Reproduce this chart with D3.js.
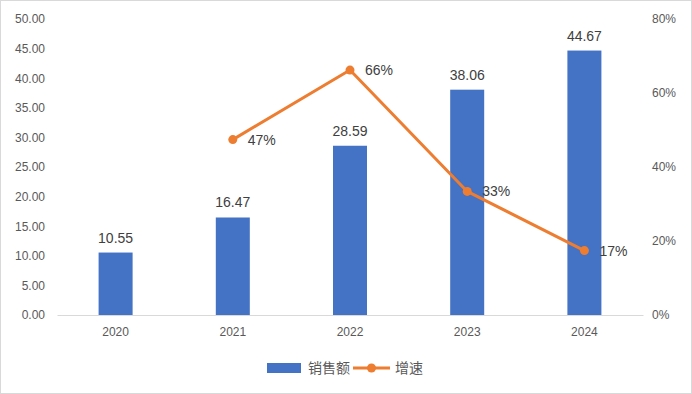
<!DOCTYPE html>
<html>
<head>
<meta charset="utf-8">
<script src="https://cdn.jsdelivr.net/npm/d3@7"></script>
<style>
  body { margin: 0; background: #fff; }
  svg text { font-family: "Liberation Sans", "Noto Sans CJK SC", sans-serif; }
</style>
</head>
<body>
<div id="chart"></div>
<script>
// data
var years = ["2020", "2021", "2022", "2023", "2024"];
var sales = [10.55, 16.47, 28.59, 38.06, 44.67];
var growthYears = ["2021", "2022", "2023", "2024"];
var growth = [0.474, 0.662, 0.334, 0.174];
var leftTicks = [0, 5, 10, 15, 20, 25, 30, 35, 40, 45, 50];
var rightTicks = [0, 0.2, 0.4, 0.6, 0.8];

var W = 692, H = 394;
var margin = { top: 19, right: 49, bottom: 79, left: 57 };
var width = W - margin.left - margin.right;
var height = H - margin.top - margin.bottom;

var svg = d3.select("#chart").append("svg")
  .attr("width", W).attr("height", H);

// outer border
svg.append("rect")
  .attr("x", 0.5).attr("y", 0.5)
  .attr("width", W - 1).attr("height", H - 1)
  .attr("fill", "#fff").attr("stroke", "#d9d9d9");

var g = svg.append("g")
  .attr("transform", `translate(${margin.left}, ${margin.top})`);

var x = d3.scaleBand().domain(years).range([0, width]);
var yL = d3.scaleLinear().domain([0, 50]).range([height, 0]);
var yR = d3.scaleLinear().domain([0, 0.8]).range([height, 0]);

// left axis
var leftAxis = g.append("g")
  .call(d3.axisLeft(yL).tickValues(leftTicks).tickFormat(d3.format(".2f")).tickSize(0).tickPadding(12));
leftAxis.select(".domain").remove();
leftAxis.selectAll("text").attr("fill", "#595959").attr("font-size", 12);

// right axis
var rightAxis = g.append("g")
  .attr("transform", `translate(${width}, 0)`)
  .call(d3.axisRight(yR).tickValues(rightTicks).tickFormat(d3.format(".0%")).tickSize(0).tickPadding(9));
rightAxis.select(".domain").remove();
rightAxis.selectAll("text").attr("fill", "#595959").attr("font-size", 12);

// bottom axis
var bottomAxis = g.append("g")
  .attr("transform", `translate(0, ${height})`)
  .call(d3.axisBottom(x).tickSize(0).tickPadding(12));
bottomAxis.select(".domain").attr("stroke", "#d9d9d9");
bottomAxis.selectAll("text").attr("fill", "#595959").attr("font-size", 12);

// bars
var barW = 34;
g.selectAll(".bar")
  .data(sales)
  .enter().append("rect")
  .attr("class", "bar")
  .attr("x", (d, i) => x(years[i]) + x.bandwidth() / 2 - barW / 2)
  .attr("y", d => yL(d))
  .attr("width", barW)
  .attr("height", d => height - yL(d))
  .attr("fill", "#4472c4");

g.selectAll(".barlabel")
  .data(sales)
  .enter().append("text")
  .attr("x", (d, i) => x(years[i]) + x.bandwidth() / 2)
  .attr("y", d => yL(d) - 10)
  .attr("text-anchor", "middle")
  .attr("font-size", 14)
  .attr("fill", "#404040")
  .text(d => d.toFixed(2));

// growth line
var line = d3.line()
  .x((d, i) => x(growthYears[i]) + x.bandwidth() / 2)
  .y(d => yR(d));

g.append("path")
  .datum(growth)
  .attr("d", line)
  .attr("fill", "none")
  .attr("stroke", "#ed7d31")
  .attr("stroke-width", 3)
  .attr("stroke-linejoin", "round");

g.selectAll(".dot")
  .data(growth)
  .enter().append("circle")
  .attr("cx", (d, i) => x(growthYears[i]) + x.bandwidth() / 2)
  .attr("cy", d => yR(d))
  .attr("r", 4.5)
  .attr("fill", "#ed7d31");

g.selectAll(".linelabel")
  .data(growth)
  .enter().append("text")
  .attr("x", (d, i) => x(growthYears[i]) + x.bandwidth() / 2 + 15)
  .attr("y", d => yR(d) + 5)
  .attr("font-size", 14)
  .attr("fill", "#404040")
  .text(d => d3.format(".0%")(d));

// legend
var legend = svg.append("g").attr("transform", "translate(267, 368)");
legend.append("rect")
  .attr("x", 0).attr("y", -5)
  .attr("width", 34).attr("height", 10)
  .attr("fill", "#4472c4");
legend.append("text")
  .attr("x", 41).attr("y", 5)
  .attr("font-size", 14).attr("fill", "#595959")
  .text("销售额");
legend.append("line")
  .attr("x1", 86).attr("x2", 123)
  .attr("y1", 0).attr("y2", 0)
  .attr("stroke", "#ed7d31").attr("stroke-width", 3);
legend.append("circle")
  .attr("cx", 104.5).attr("cy", 0).attr("r", 4.5)
  .attr("fill", "#ed7d31");
legend.append("text")
  .attr("x", 128).attr("y", 5)
  .attr("font-size", 14).attr("fill", "#595959")
  .text("增速");
</script>
</body>
</html>
